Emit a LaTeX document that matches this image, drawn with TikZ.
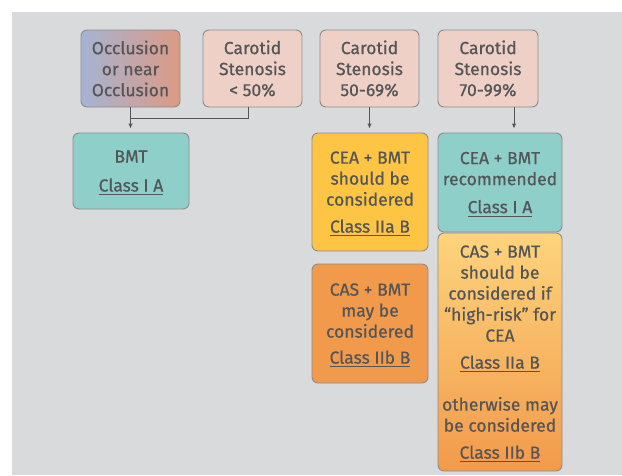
\documentclass[tikz,border=0pt]{standalone}
\usepackage{fontspec}
\setmainfont{Fira Sans}[UprightFeatures={FakeBold=0.6}]
\usetikzlibrary{arrows.meta}
\definecolor{panel}{HTML}{D9DADC}
\definecolor{ink}{HTML}{545557}
\definecolor{rim}{HTML}{8C8C8E}
\definecolor{pinkbox}{HTML}{EFD0C7}
\definecolor{tealbox}{HTML}{8ECFCA}
\definecolor{yelbox}{HTML}{FDC543}
\definecolor{orbox}{HTML}{F29A4B}
\definecolor{paleor}{HTML}{FDD47C}
\definecolor{occlL}{HTML}{A6B3D3}
\definecolor{occlR}{HTML}{DC9A84}
\newcommand{\cls}[1]{{\setbox0\hbox{#1}\setbox2\hbox{\copy0\llap{\smash{\rule[-3.5pt]{\wd0}{1pt}}}}\dp2=-2pt\box2}}

\begin{document}
\begin{tikzpicture}[x=1pt, y=-1pt, >={Latex[length=5pt,width=4.5pt]},
  every node/.style={font=\fontsize{17.5}{21}\selectfont, text=ink},
  box/.style={draw=rim, line width=0.9pt, rounded corners=6pt, align=center, inner sep=0pt},
  src/.style={box, fill=pinkbox, minimum width=99pt, minimum height=77pt},
  res/.style={box, minimum width=116pt},
  wide/.style={box, minimum width=124pt},
  flow/.style={->, draw=ink, line width=1pt, shorten >=4pt}]
  \useasboundingbox (0,0) rectangle (622,475);
  \fill[panel] (12,12) rectangle (622,475);
  \node[src, left color=occlL, right color=occlR] (occl) at (130.5,68.5) {Occlusion\\or near\\Occlusion};
  \node[src] (lt50) at (252.5,68.5) {Carotid\\Stenosis\\< 50\%};
  \node[src] (s5069) at (369.5,68.5) {Carotid\\Stenosis\\50-69\%};
  \node[src, minimum width=100pt] (s7099) at (488,68.5) {Carotid\\Stenosis\\70-99\%};
  \node[res, fill=tealbox, minimum height=76pt] (bmt) at (131,171) {BMT\\[8pt]\cls{Class I A}};
  \node[res, fill=yelbox, minimum height=118pt] (ceaA) at (370,192) {CEA + BMT\\should be\\considered\\[6pt]\cls{Class IIa B}};
  \node[res, fill=orbox, minimum height=119pt] (casB) at (370,323.5) {CAS + BMT\\may be\\considered\\[5pt]\cls{Class IIb B}};
  \node[wide, fill=tealbox, minimum height=99pt] (ceaR) at (500,182.5) {CEA + BMT\\recommended\\[7pt]\cls{Class I A}};
  \node[wide, top color=paleor, bottom color=orbox, minimum height=238pt] (casR) at (500,352)
    {CAS + BMT\\should be\\considered if\\“high-risk” for\\CEA\\[6pt]\cls{Class IIa B}\\[21pt]otherwise may\\be considered\\[6pt]\cls{Class IIb B}};
  \coordinate (jn) at (130.5,118);
  \draw[flow] (occl.south) -- (occl.south |- bmt.north);
  \draw[draw=ink, line width=1pt] ([xshift=-4pt]lt50.south) |- (jn);
  \draw[flow] (s5069.south) -- (s5069.south |- ceaA.north);
  \draw[flow] ([xshift=26pt]s7099.south) -- ([xshift=14pt]ceaR.north);
\end{tikzpicture}
\end{document}
